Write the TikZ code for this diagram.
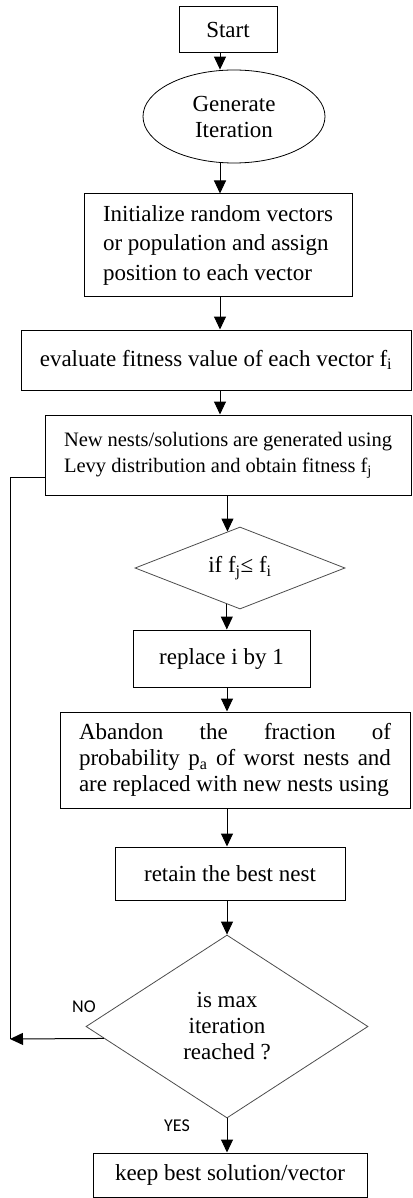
\documentclass[tikz,border=0pt]{standalone}
\usepackage{fontspec}
\setmainfont{Liberation Serif}
\newfontfamily\labelfont{Carlito}
\usetikzlibrary{shapes.geometric,arrows.meta,calc}

\begin{document}
\begin{tikzpicture}[x=1pt,y=-1pt,
	box/.style={draw,line width=1pt,inner sep=0pt,align=center,font=\fontsize{23}{29.5}\selectfont},
	decision/.style={draw=black!70,line width=0.8pt,diamond,inner sep=0pt,align=center,font=\fontsize{23}{26}\selectfont},
	arr/.style={-{Triangle[length=13pt,width=12pt]},line width=1pt},
	yesno/.style={font=\labelfont\fontsize{18}{18}\selectfont}]
	\useasboundingbox (0,0) rectangle (412,1198);
	\coordinate (laneA) at (220,0);
	\coordinate (laneB) at (227,0);
	\coordinate (loopin) at (10,1039);
	\coordinate (loopup) at (10,477);
	% steps from top to bottom
	\node[box,minimum width=98,minimum height=46] (start) at (228,30) {Start};
	\node[draw,line width=0.8pt,ellipse,inner sep=0pt,minimum width=182,minimum height=93,align=center,font=\fontsize{23}{26}\selectfont] (gen) at (234,116.5) {Generate\\Iteration};
	\node[box,align=left,minimum width=268,minimum height=102] (init) at (218,245) {Initialize random vectors\\or population and assign\\position to each vector};
	\node[box,minimum width=390,minimum height=60] (eval) at (216,360) {evaluate fitness value of each vector f\textsubscript{i}};
	\node[box,minimum width=366,minimum height=80,text width=328,align=justify,font=\fontsize{20.5}{26}\selectfont] (nests) at (228,455) {New nests/solutions are generated using\linebreak Levy distribution and obtain fitness f\textsubscript{j}};
	\node[decision,minimum width=210,minimum height=82,aspect=2.5] (dec1) at (240,568) {if f\textsubscript{j}≤ f\textsubscript{i}};
	\node[box,minimum width=177,minimum height=57] (replace) at (221.5,658.5) {replace i by 1};
	\node[box,minimum width=350,minimum height=96,text width=312,align=justify,font=\fontsize{23}{26}\selectfont] (abandon) at (235,760) {Abandon the fraction of\linebreak probability p\textsubscript{a} of worst nests and\linebreak are replaced with new nests using};
	\node[box,minimum width=230,minimum height=53] (retain) at (230,873.5) {retain the best nest};
	\node[decision,minimum width=282,minimum height=183,aspect=1.5] (dec2) at (227,1026.5) {is max\\iteration\\reached ?};
	\node[box,minimum width=274,minimum height=44] (keep) at (230,1175) {keep best solution/vector};
	\node[yesno] (lblno) at (84,1007) {NO};
	\node[yesno] (lblyes) at (177,1126) {YES};
	% connectors
	\foreach \a/\b in {start/gen,gen/init,init/eval,eval/nests}
		\draw[arr] (\a.south -| laneA) -- (\b.north -| laneA);
	\draw[arr] (nests.south -| dec1.109) -- (dec1.109);
	\draw[arr] (dec1.250) -- (replace.north -| dec1.250);
	\foreach \a/\b in {replace/abandon,abandon/retain,retain/dec2,dec2/keep}
		\draw[arr] (\a.south -| laneB) -- (\b.north -| laneB);
	\draw[arr] ($(dec2.west)!0.13!(dec2.south)$) -- (loopin);
	\draw[line width=1pt] (loopin) -- (loopup) -- (nests.west |- loopup);
\end{tikzpicture}
\end{document}
